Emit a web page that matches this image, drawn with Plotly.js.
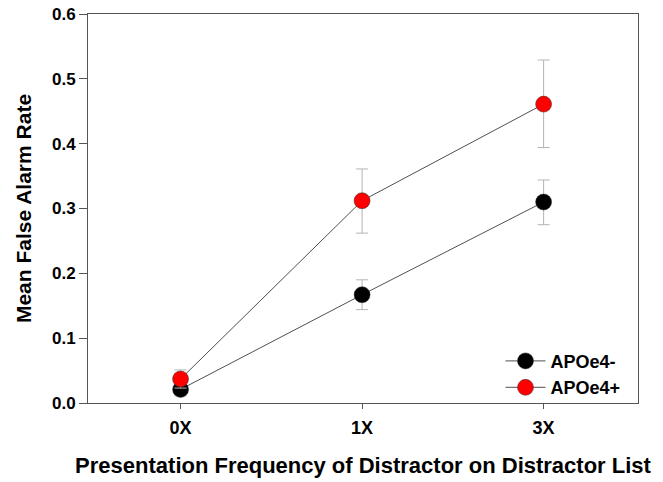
<!DOCTYPE html>
<html>
<head>
<meta charset="utf-8">
<script src="https://cdn.plot.ly/plotly-3.0.1.min.js"></script>
<style>html,body{margin:0;padding:0;background:#fff;}#chart{width:663px;height:482px;}</style>
</head>
<body>
<div id="chart"></div>
<script>
const categories = ["0X", "1X", "3X"];
const negMean = [0.021, 0.167, 0.310];
const negErrPlus = [0.010, 0.023, 0.034];
const negErrMinus = [0.010, 0.023, 0.035];
const posMean = [0.037, 0.312, 0.461];
const posErrPlus = [0.014, 0.049, 0.068];
const posErrMinus = [0.014, 0.050, 0.067];
const seriesNames = ["APOe4-", "APOe4+"];

const fontFam = "Arial, 'Liberation Sans', sans-serif";

function trace(name, y, ep, em, color) {
  return {
    type: "scatter", mode: "lines+markers", name: name,
    x: categories, y: y,
    line: {color: "#505050", width: 1},
    marker: {color: color, size: 16, line: {color: "#333", width: 0.5}},
    error_y: {type: "data", symmetric: false, array: ep, arrayminus: em,
              color: "#b4b4b4", thickness: 1, width: 6}
  };
}

const data = [
  trace(seriesNames[0], negMean, negErrPlus, negErrMinus, "#000000"),
  trace(seriesNames[1], posMean, posErrPlus, posErrMinus, "#ff0000")
];

const layout = {
  width: 663, height: 482,
  margin: {l: 88, r: 25, t: 14, b: 79},
  paper_bgcolor: "#fff", plot_bgcolor: "#fff",
  font: {family: fontFam, color: "#000"},
  showlegend: true,
  legend: {x: 0.75, xanchor: "left", y: 0.155, yanchor: "top",
           bgcolor: "rgba(0,0,0,0)", font: {size: 18, family: fontFam, weight: "bold"},
           tracegroupgap: 0, itemwidth: 40},
  xaxis: {
    type: "category", range: [-0.51, 2.52],
    showline: true, linecolor: "#555", linewidth: 1, mirror: true,
    ticks: "outside", ticklen: 5, tickcolor: "#555",
    showgrid: false, zeroline: false,
    ticklabelstandoff: 3,
    tickfont: {size: 18, weight: "bold"},
    title: {text: "Presentation Frequency of Distractor on Distractor List",
            font: {size: 22, weight: "bold"}, standoff: 21}
  },
  yaxis: {
    range: [0, 0.6], dtick: 0.1, tickformat: ".1f",
    showline: true, linecolor: "#555", linewidth: 1, mirror: true,
    ticks: "outside", ticklen: 8, tickcolor: "#555",
    showgrid: false, zeroline: false,
    tickfont: {size: 17, weight: "bold"},
    title: {text: "Mean False Alarm Rate", font: {size: 21, weight: "bold"}, standoff: 14}
  }
};

Plotly.newPlot("chart", data, layout, {displayModeBar: false, staticPlot: true});
</script>
</body>
</html>
